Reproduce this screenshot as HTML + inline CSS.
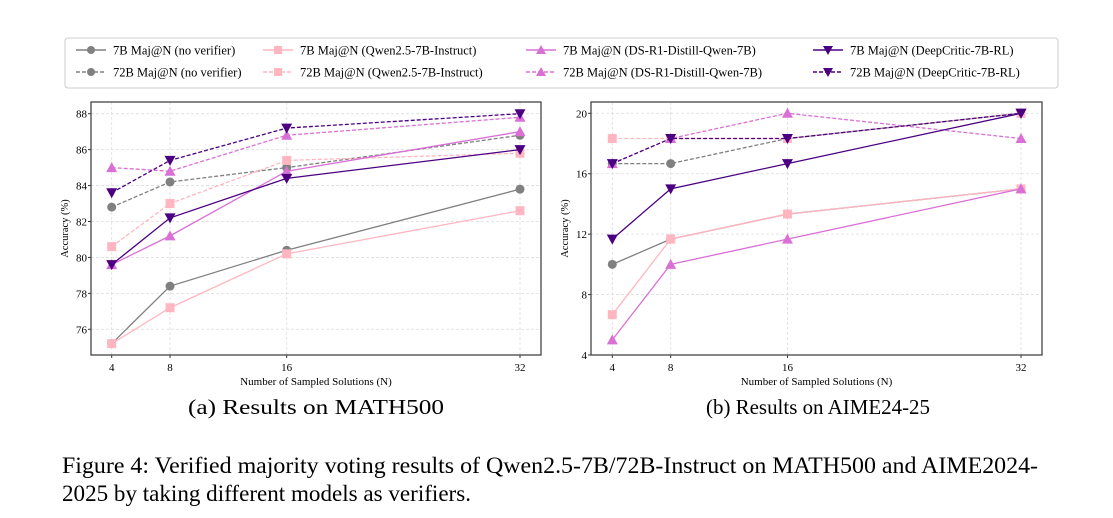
<!DOCTYPE html>
<html><head><meta charset="utf-8"><style>
body{margin:0;background:#fff;width:1113px;height:518px;overflow:hidden;font-family:"Liberation Serif","DejaVu Serif",serif}
svg{position:absolute;left:0;top:0;font-family:"Liberation Serif","DejaVu Serif",serif}
svg text{font-family:"Liberation Serif","DejaVu Serif",serif}
</style></head><body>
<svg id="fig" width="1113" height="518" xmlns="http://www.w3.org/2000/svg">
<g id="legend"></g>
<g id="chartA"></g>
<g id="chartB"></g>
<text x="188" y="414" font-size="21" textLength="256" lengthAdjust="spacingAndGlyphs">(a) Results on MATH500</text>
<text x="706" y="414" font-size="21" textLength="224" lengthAdjust="spacingAndGlyphs">(b) Results on AIME24-25</text>
<text x="62" y="473" font-size="23" textLength="976" lengthAdjust="spacingAndGlyphs">Figure 4: Verified majority voting results of Qwen2.5-7B/72B-Instruct on MATH500 and AIME2024-</text>
<text x="62" y="501" font-size="23" textLength="409" lengthAdjust="spacingAndGlyphs">2025 by taking different models as verifiers.</text>
</svg>
<script>
const categories = [4, 8, 16, 32];
const seriesNames = ["7B Maj@N (no verifier)","72B Maj@N (no verifier)","7B Maj@N (Qwen2.5-7B-Instruct)","72B Maj@N (Qwen2.5-7B-Instruct)","7B Maj@N (DS-R1-Distill-Qwen-7B)","72B Maj@N (DS-R1-Distill-Qwen-7B)","7B Maj@N (DeepCritic-7B-RL)","72B Maj@N (DeepCritic-7B-RL)"];
const mathNv7 = [75.2, 78.4, 80.4, 83.8];
const mathNv72 = [82.8, 84.2, 85.0, 86.8];
const mathQw7 = [75.2, 77.2, 80.2, 82.6];
const mathQw72 = [80.6, 83.0, 85.4, 85.8];
const mathDs7 = [79.6, 81.2, 84.8, 87.0];
const mathDs72 = [85.0, 84.8, 86.8, 87.8];
const mathDc7 = [79.6, 82.2, 84.4, 86.0];
const mathDc72 = [83.6, 85.4, 87.2, 88.0];
const aimeNv7 = [10, 11.67, 13.33, 15];
const aimeNv72 = [16.67, 16.67, 18.33, 20];
const aimeQw7 = [6.67, 11.67, 13.33, 15];
const aimeQw72 = [18.33, 18.33, 18.33, 20];
const aimeDs7 = [5, 10, 11.67, 15];
const aimeDs72 = [16.67, 18.33, 20, 18.33];
const aimeDc7 = [11.67, 15, 16.67, 20];
const aimeDc72 = [16.67, 18.33, 18.33, 20];
const mathTicks = [76, 78, 80, 82, 84, 86, 88];
const aimeTicks = [4, 8, 12, 16, 20];

const NS = "http://www.w3.org/2000/svg";
const colors = ["#808080","#808080","#FFB6C1","#FFB6C1","#DA70D6","#DA70D6","#4B0082","#4B0082"];
const markers = ["o","o","s","s","^","^","v","v"];
function mk(tag, attrs, parent){const e=document.createElementNS(NS,tag);for(const k in attrs)e.setAttribute(k,attrs[k]);parent.appendChild(e);return e;}
function marker(parent,type,x,y,c,s){
  s = s||5;
  if(type==="o") return mk("circle",{cx:x,cy:y,r:s,fill:c},parent);
  if(type==="s") return mk("rect",{x:x-s,y:y-s,width:2*s,height:2*s,fill:c},parent);
  if(type==="^") return mk("polygon",{points:`${x},${y-s-1} ${x-s-1},${y+s} ${x+s+1},${y+s}`,fill:c},parent);
  return mk("polygon",{points:`${x},${y+s+1} ${x-s-1},${y-s} ${x+s+1},${y-s}`,fill:c},parent);
}
function chart(gid, box, x4, x32, yMin, yMax, yMaxPx, yMinPx, ticks, data){
  const g=document.getElementById(gid);
  const xs=v=>x4+(v-4)/28*(x32-x4);
  const ys=v=>yMinPx-(v-yMin)/(yMax-yMin)*(yMinPx-yMaxPx);
  ticks.forEach(t=>{
    const l=mk("line",{x1:box.l,x2:box.r,y1:ys(t),y2:ys(t),stroke:"#ddd","stroke-width":0.8,"stroke-dasharray":"3,2"},g);
    
    
    const tx=mk("text",{x:box.l-4,y:ys(t)+4,"font-size":11,"text-anchor":"end"},g);tx.textContent=t;
    
    
    mk("line",{x1:box.l-3,x2:box.l,y1:ys(t),y2:ys(t),stroke:"#333"},g);
  });
  categories.forEach(c=>{
    const l=mk("line",{x1:xs(c),x2:xs(c),y1:box.t,y2:box.b,stroke:"#ddd","stroke-width":0.8,"stroke-dasharray":"3,2"},g);
    
    
    const tx=mk("text",{x:xs(c),y:box.b+16,"font-size":11,"text-anchor":"middle"},g);tx.textContent=c;
    
    
    mk("line",{x1:xs(c),x2:xs(c),y1:box.b,y2:box.b+3,stroke:"#333"},g);
  });
  data.forEach((d,i)=>{
    const pts=d.map((v,j)=>xs(categories[j])+","+ys(v)).join(" ");
    const pl=mk("polyline",{points:pts,fill:"none",stroke:colors[i],"stroke-width":1.3,"stroke-dasharray":i%2?"4,2":"none"},g);
    
    
    d.forEach((v,j)=>{
      const m=marker(g,markers[i],xs(categories[j]),ys(v),colors[i],4.5);
      
      
    });
  });
  const fr=mk("rect",{x:box.l,y:box.t,width:box.r-box.l,height:box.b-box.t,fill:"none",stroke:"#444","stroke-width":1.3},g);
  
  
  const xl=mk("text",{x:(box.l+box.r)/2,y:box.b+30,"font-size":11,"text-anchor":"middle"},g);xl.textContent="Number of Sampled Solutions (N)";
  
  
  const yl=mk("text",{x:0,y:0,"font-size":10.5,"text-anchor":"middle",transform:`translate(${box.l-23},${(box.t+box.b)/2}) rotate(-90)`},g);yl.textContent="Accuracy (%)";
  
  
}
chart("chartA",{l:91,r:541,t:102,b:355},111.7,520,76,88,113.7,329.3,mathTicks,[mathNv7,mathNv72,mathQw7,mathQw72,mathDs7,mathDs72,mathDc7,mathDc72]);
chart("chartB",{l:591,r:1042,t:102,b:355},612.3,1021,4,20,113.3,355,aimeTicks,[aimeNv7,aimeNv72,aimeQw7,aimeQw72,aimeDs7,aimeDs72,aimeDc7,aimeDc72]);
const lg=document.getElementById("legend");
mk("rect",{x:65,y:38,width:993,height:50,rx:3,fill:"#fff",stroke:"#ccc"},lg);
const colX=[76,263,526,813];
seriesNames.forEach((n,i)=>{
  const col=Math.floor(i/2), row=i%2;
  const x=colX[col], y=row?72:50;
  const ln=mk("line",{x1:x,x2:x+30,y1:y,y2:y,stroke:colors[i],"stroke-width":1.5,"stroke-dasharray":row?"4,2":"none"},lg);
  
  
  marker(lg,markers[i],x+15,y,colors[i],4);
  const t=mk("text",{x:x+37,y:y+4.5,"font-size":12.5},lg);t.textContent=n;
  
  
});
</script>
</body></html>
